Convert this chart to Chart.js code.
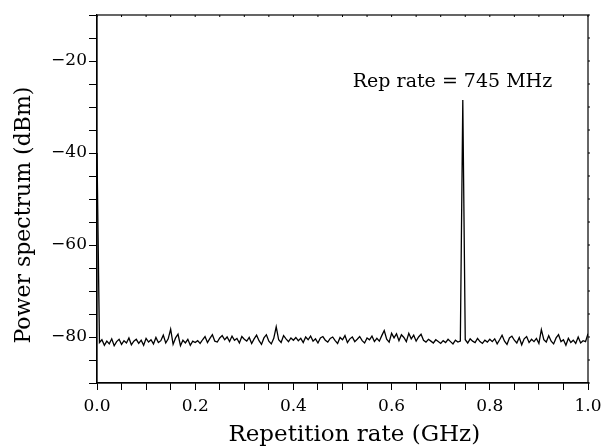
<!DOCTYPE html>
<html>
<head>
<meta charset="utf-8">
<script src="https://cdn.jsdelivr.net/npm/chart.js@4"></script>
<style>
  html, body { margin: 0; padding: 0; background: #fff; }
  #wrap { width: 603px; height: 446px; }
</style>
</head>
<body>
<div id="wrap"><canvas id="specChart"></canvas></div>
<script>
// 周波数ステップ [GHz]
const STEP_GHZ = 0.005;
// パワースペクトル [dBm]（0 GHz から 1 GHz まで 0.005 GHz 刻み）
const powerDbm = [
  -40.0,
  -81.2,-80.6,-81.8,-80.9,-81.5,-80.4,-81.9,-81.0,-80.5,-81.6,
  -80.8,-81.3,-80.2,-81.7,-80.9,-80.5,-81.4,-80.7,-81.8,-80.3,
  -81.1,-80.6,-81.5,-80.1,-81.2,-80.8,-79.6,-81.3,-80.4,-78.3,
  -81.6,-80.2,-79.4,-81.9,-80.7,-81.3,-80.5,-81.8,-80.9,-81.2,
  -80.8,-81.4,-80.6,-79.9,-81.2,-80.3,-79.5,-80.9,-81.1,-80.2,
  -79.7,-80.6,-80.0,-81.0,-79.8,-80.7,-80.3,-81.3,-79.9,-80.5,
  -80.9,-80.1,-81.4,-80.4,-79.6,-80.8,-81.6,-80.2,-79.5,-80.9,
  -81.5,-80.3,-77.8,-80.6,-81.2,-79.7,-80.4,-81.0,-80.2,-80.7,
  -80.1,-80.8,-80.3,-81.2,-80.0,-80.6,-79.8,-80.9,-80.4,-81.3,
  -80.2,-79.9,-80.7,-81.1,-80.3,-80.0,-80.8,-81.4,-80.1,-80.6,
  -79.7,-81.2,-80.4,-80.0,-81.0,-80.5,-79.9,-80.8,-81.3,-80.2,
  -80.6,-79.8,-81.0,-80.3,-80.9,-79.7,-78.6,-80.5,-81.1,-79.2,
  -80.2,-79.3,-80.8,-79.5,-80.1,-81.0,-79.2,-80.4,-79.6,-80.9,
  -80.0,-79.4,-80.7,-81.1,-80.5,-80.9,-81.3,-80.6,-81.0,-81.4,
  -80.8,-81.2,-80.5,-81.0,-81.5,-80.7,-81.1,-80.9,-28.5,-80.6,
  -81.3,-80.4,-80.9,-81.2,-80.3,-81.0,-81.4,-80.7,-81.1,-80.5,
  -81.0,-80.4,-81.5,-80.6,-79.6,-80.9,-81.6,-80.2,-79.8,-80.7,
  -81.3,-80.1,-81.7,-80.4,-79.9,-81.2,-80.5,-81.0,-80.3,-81.4,
  -78.4,-80.6,-81.1,-79.7,-80.9,-81.5,-80.2,-79.5,-81.0,-80.6,
  -81.8,-80.3,-81.2,-80.7,-81.4,-80.0,-81.3,-80.8,-81.0,-79.3
];
// 注記と軸タイトル
const noteText = 'Rep rate = 745 MHz';
const notePos = { x: 0.724, y: -24.6 };
const xTitle = 'Repetition rate (GHz)';
const yTitle = 'Power spectrum (dBm)';

const FONT = "'DejaVu Serif', 'Liberation Serif', serif";

const points = powerDbm.map((p, i) => ({ x: i * STEP_GHZ, y: p }));

// 枠線と上・右の目盛り、注記、軸タイトルを描く
const framePlugin = {
  id: 'frame',
  afterDraw(chart) {
    const { ctx, chartArea: a, scales } = chart;
    ctx.save();
    ctx.strokeStyle = '#000';
    ctx.lineWidth = 1.2;
    ctx.strokeRect(a.left, a.top, a.right - a.left, a.bottom - a.top);
    ctx.lineWidth = 1;
    ctx.beginPath();
    scales.x.ticks.forEach(t => {
      const px = scales.x.getPixelForValue(t.value);
      ctx.moveTo(px, a.top);
      ctx.lineTo(px, a.top + 2);
    });
    scales.y.ticks.forEach(t => {
      const py = scales.y.getPixelForValue(t.value);
      ctx.moveTo(a.right, py);
      ctx.lineTo(a.right + 2, py);
    });
    ctx.stroke();
    ctx.fillStyle = '#000';
    ctx.font = '19px ' + FONT;
    ctx.textAlign = 'center';
    ctx.textBaseline = 'middle';
    ctx.fillText(noteText, scales.x.getPixelForValue(notePos.x), scales.y.getPixelForValue(notePos.y));
    // 横軸タイトル（少し右寄せ）
    ctx.font = '23px ' + FONT;
    ctx.fillText(xTitle, scales.x.getPixelForValue(0.524), chart.height - 11);
    // 縦軸タイトル（少し下寄せ）
    ctx.font = '22px ' + FONT;
    ctx.translate(24, scales.y.getPixelForValue(-53.5));
    ctx.rotate(-Math.PI / 2);
    ctx.fillText(yTitle, 0, 0);
    ctx.restore();
  }
};

const ctx = document.getElementById('specChart').getContext('2d');
new Chart(ctx, {
  type: 'line',
  data: {
    datasets: [{
      data: points,
      borderColor: '#000',
      borderWidth: 1.3,
      pointRadius: 0,
      tension: 0,
      fill: false
    }]
  },
  options: {
    responsive: true,
    maintainAspectRatio: false,
    animation: false,
    layout: { padding: { top: 15, right: 15, left: 0, bottom: 0 } },
    plugins: {
      legend: { display: false },
      tooltip: { enabled: false }
    },
    scales: {
      x: {
        type: 'linear',
        min: 0,
        max: 1,
        afterFit: s => { s.height = 63; s.paddingLeft = 0; s.paddingRight = 0; },
        border: { display: true, color: '#000', width: 1.2 },
        grid: { drawOnChartArea: false, drawTicks: true, tickLength: 7, color: '#000' },
        ticks: {
          stepSize: 0.05,
          autoSkip: false,
          maxRotation: 0,
          padding: 6,
          color: '#000',
          font: { family: FONT, size: 17 },
          callback: v => Math.abs(v * 5 - Math.round(v * 5)) < 1e-6 ? v.toFixed(1) : ''
        },
        title: { display: false }
      },
      y: {
        min: -90,
        max: -10,
        afterFit: s => { s.width = 97; },
        border: { display: true, color: '#000', width: 1.2 },
        grid: { drawOnChartArea: false, drawTicks: true, tickLength: 8, color: '#000' },
        ticks: {
          stepSize: 5,
          autoSkip: false,
          padding: 2,
          color: '#000',
          font: { family: FONT, size: 17 },
          callback: v => (Math.round(v) % 20 === 0 ? '\u2212' + Math.abs(v) : '')
        },
        title: { display: false }
      }
    }
  },
  plugins: [framePlugin]
});
</script>
</body>
</html>
